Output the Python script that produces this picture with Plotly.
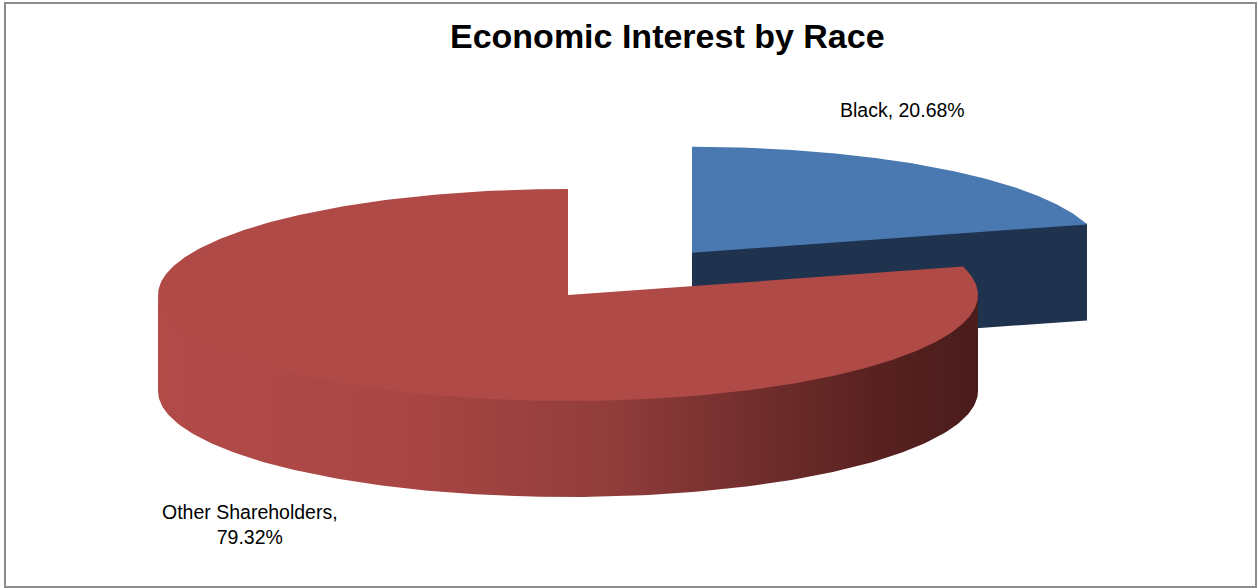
import numpy as np
import plotly.graph_objects as go

# ---- data ----
categories = ["Black", "Other Shareholders"]
values = [20.68, 79.32]
title_text = "Economic Interest by Race"

# ---- style / layout ----
W, H = 1258, 588
CX, CY = 568, 295          # pie centre (pixels)
RX, RY = 410, 106          # ellipse radii of top face
DEPTH = 96                 # pie thickness
EXPLODE = [0.5, 0.0]       # explode fraction per slice
top_colors = ["#4a78b1", "#b04a46"]
side_colors = ["#1f324e", "#8a3a38"]
side_gradients = [
    None,
    [[0.0, "#b24b48"], [0.3, "#a94644"], [0.55, "#913d3b"],
     [0.75, "#6d2c2b"], [0.9, "#55201f"], [1.0, "#4a1c1c"]],
]
label_pos = [(902, 110), (250, 524)]
FONT = "Arial, Liberation Sans, sans-serif"


def rim(theta_deg, cx, cy, dz=0.0):
    t = np.radians(theta_deg)
    return cx + RX * np.sin(t), cy - RY * np.cos(t) + dz


fig = go.Figure()

total = sum(values)
start = 0.0
slices = []
for cat, v, e in zip(categories, values, EXPLODE):
    a0 = start
    a1 = start + 360.0 * v / total
    mid = np.radians((a0 + a1) / 2)
    cx = CX + e * RX * np.sin(mid)
    cy = CY - e * RY * np.cos(mid)
    slices.append((cat, v, a0, a1, cx, cy))
    start = a1

# draw exploded (back) slices first
order = sorted(range(len(slices)), key=lambda i: -EXPLODE[i])
for i in order:
    cat, v, a0, a1, cx, cy = slices[i]
    # outer front side (angles 90..270 are the front half)
    s0, s1 = max(a0, 90.0), min(a1, 270.0)
    if s1 > s0:
        th = np.linspace(s0, s1, 200)
        xt, yt = rim(th, cx, cy, -1.5)
        xb, yb = rim(th[::-1], cx, cy, DEPTH)
        xs = np.concatenate([xt, xb, xt[:1]])
        ys = np.concatenate([yt, yb, yt[:1]])
        kw = dict(fillcolor=side_colors[i])
        if side_gradients[i] is not None:
            kw = dict(fillgradient=dict(type="horizontal",
                                        colorscale=side_gradients[i]))
        fig.add_trace(go.Scatter(x=xs, y=ys, mode="lines", fill="toself",
                                 line=dict(width=0), hoverinfo="skip",
                                 showlegend=False, **kw))
    # radial face at the slice's end angle (visible when it faces the viewer)
    if 0 < a1 < 180:
        rx1, ry1 = rim(a1, cx, cy)
        xs = [cx, rx1, rx1, cx, cx]
        ys = [cy - 1, ry1 - 1, ry1 + DEPTH, cy + DEPTH, cy - 1]
        fig.add_trace(go.Scatter(x=xs, y=ys, mode="lines", fill="toself",
                                 fillcolor=side_colors[i], line=dict(width=0),
                                 hoverinfo="skip", showlegend=False))
    # top face
    th = np.linspace(a0, a1, 400)
    xt, yt = rim(th, cx, cy)
    xs = np.concatenate([[cx], xt, [cx]])
    ys = np.concatenate([[cy], yt, [cy]])
    fig.add_trace(go.Scatter(x=xs, y=ys, mode="lines", fill="toself",
                             fillcolor=top_colors[i], line=dict(width=0),
                             hoverinfo="skip", showlegend=False, name=cat))

# data labels
for (cat, v, *_), (lx, ly) in zip(slices, label_pos):
    sep = ",<br>" if len(cat) > 10 else ", "
    fig.add_annotation(x=lx, y=ly, xref="x", yref="y",
                       text=f"{cat}{sep}{v:.2f}%", showarrow=False,
                       font=dict(family=FONT, size=19.5, color="#000000"),
                       align="center")

fig.add_annotation(x=667, y=36, xref="x", yref="y", text=f"<b>{title_text}</b>",
                   showarrow=False,
                   font=dict(family=FONT, size=34, color="#000000"))

fig.add_shape(type="rect", xref="x", yref="y", x0=5, y0=3, x1=1256, y1=587,
              line=dict(color="#8c8c8c", width=2), fillcolor="rgba(0,0,0,0)",
              layer="above")

fig.update_layout(
    width=W, height=H,
    margin=dict(l=0, r=0, t=0, b=0),
    paper_bgcolor="white", plot_bgcolor="white",
    xaxis=dict(range=[0, W], visible=False, fixedrange=True),
    yaxis=dict(range=[H, 0], visible=False, fixedrange=True),
    showlegend=False,
)

fig.write_html("out.html")
